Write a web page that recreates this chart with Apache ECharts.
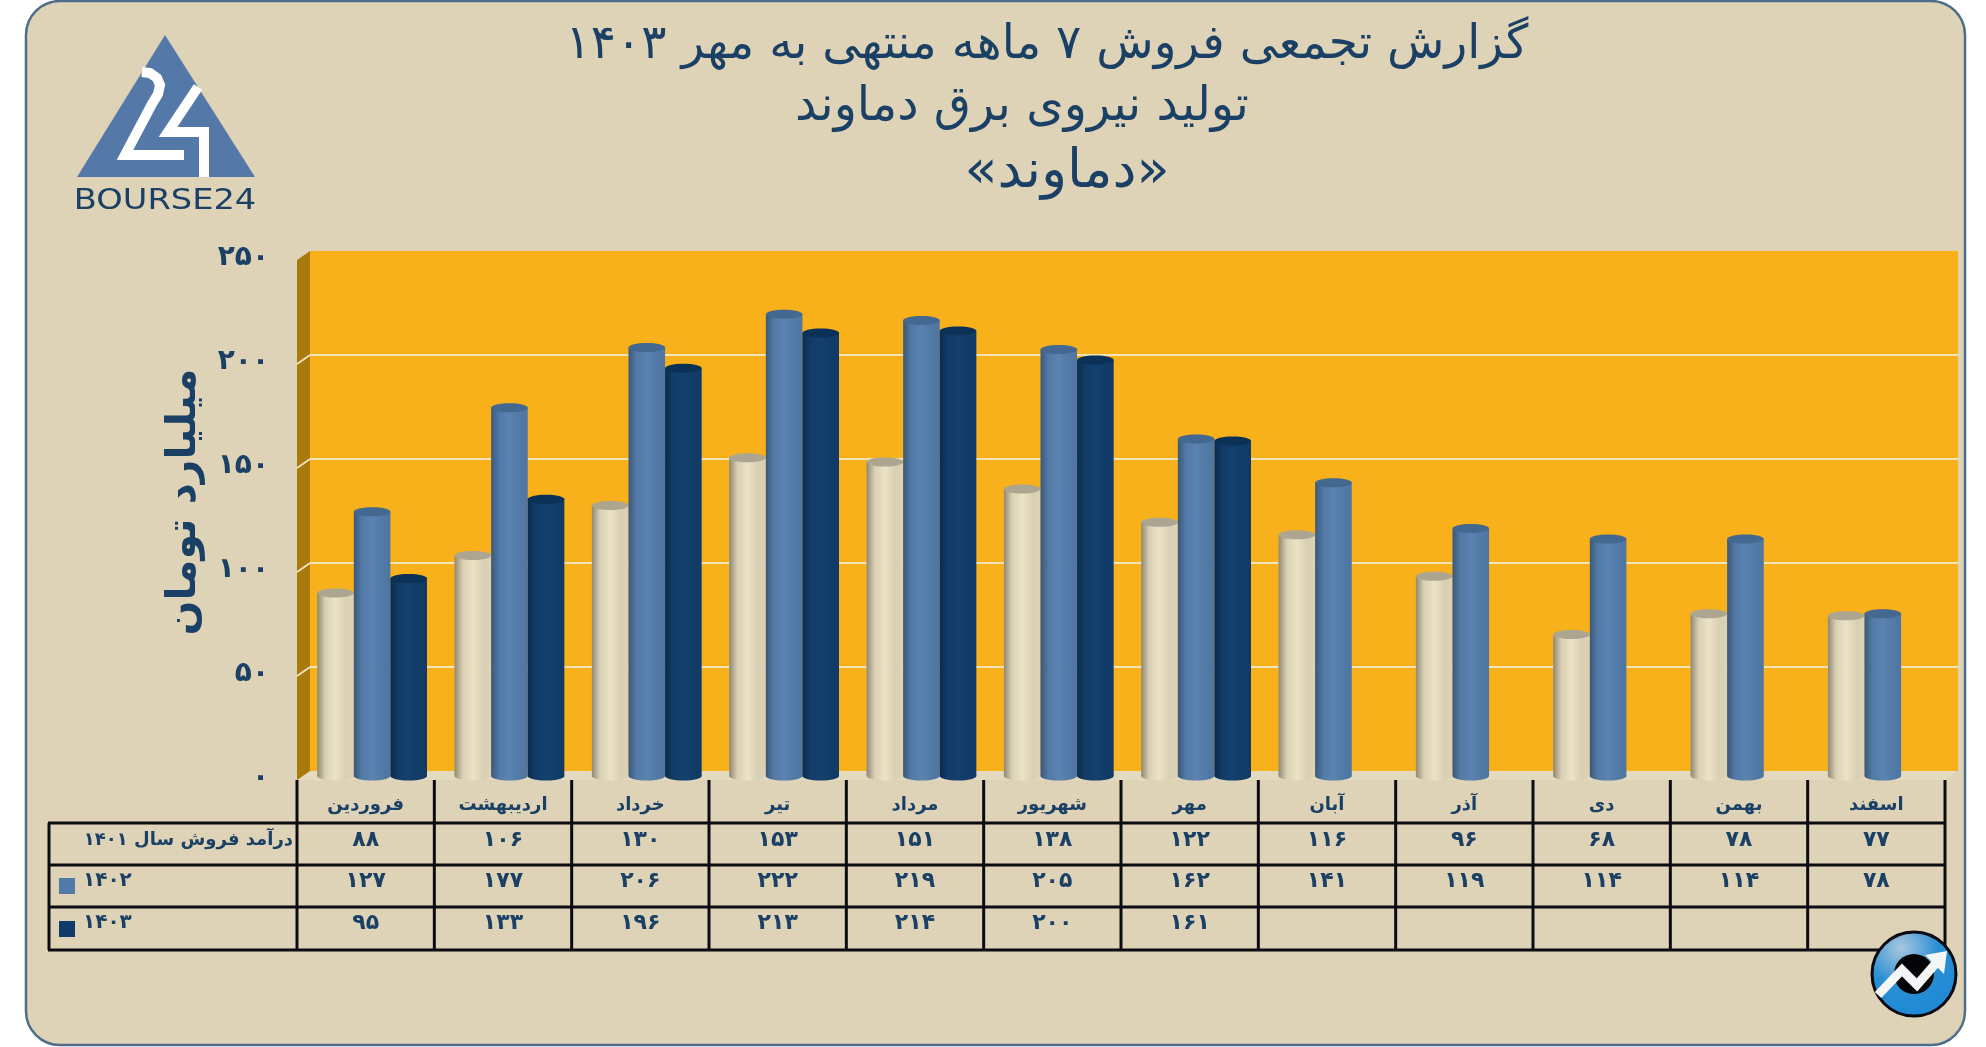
<!DOCTYPE html>
<html><head><meta charset="utf-8">
<style>html,body{margin:0;padding:0;background:#fff}#c{width:1986px;height:1047px}</style>
<script src="https://cdn.jsdelivr.net/npm/echarts@6/dist/echarts.min.js"></script>
</head><body><div id="c"></div>
<script>
const months = ['فروردین','اردیبهشت','خرداد','تیر','مرداد','شهریور','مهر','آبان','آذر','دی','بهمن','اسفند'];
const sales1401 = [88,106,130,153,151,138,122,116,96,68,78,77];
const sales1402 = [127,177,206,222,219,205,162,141,119,114,114,78];
const sales1403 = [95,133,196,213,214,200,161];
const yTicks = [0,50,100,150,200,250];
const rowLabels = ['درآمد فروش سال ۱۴۰۱','۱۴۰۲','۱۴۰۳'];
const titleLines = ['گزارش تجمعی فروش ۷ ماهه منتهی به مهر ۱۴۰۳','تولید نیروی برق دماوند','«دماوند»'];
const yName = 'میلیارد تومان';

const FONT = '"DejaVu Sans"';
const INK = '#1b4066';
const fa = n => String(n).replace(/\d/g, d => '۰۱۲۳۴۵۶۷۸۹'[d]);
const grad = (a,b,c,d) => ({type:'linear',x:0,y:0,x2:1,y2:0,colorStops:[
  {offset:0,color:a},{offset:.22,color:b},{offset:.5,color:c},{offset:.78,color:b},{offset:1,color:d}]});
const skins = [
  {body:grad('#8f8873','#d9cfb4','#ece2c4','#dcd2b6','#8f8873'),cap:'#aca58f'},
  {body:grad('#3b5878','#527aa6','#5b82b0','#4f76a1','#39587a'),cap:'#44688f'},
  {body:grad('#0b2b4d','#123c68','#14406e','#113a65','#0a2a4b'),cap:'#0c3156'}
];
function cylinder(slot){
  return function(p, api){
    const band = api.size([1,0])[0];
    const w = band*0.2665, c = api.coord([api.value(0), api.value(1)]);
    const base = api.coord([api.value(0), 0]);
    const x = c[0] + band*0.047 + (slot-1)*w - w/2;
    const ry = 4.5;
    return {type:'group',children:[
      {type:'ellipse',shape:{cx:x+w/2,cy:base[1],rx:w/2,ry:ry},style:{fill:skins[slot].body}},
      {type:'rect',shape:{x:x,y:c[1],width:w,height:base[1]-c[1]},style:{fill:skins[slot].body}},
      {type:'ellipse',shape:{cx:x+w/2,cy:c[1],rx:w/2,ry:ry},style:{fill:skins[slot].cap}}
    ]};
  };
}
const barSeries = [sales1401,sales1402,sales1403].map((arr,i)=>({
  name:['1401','1402','1403'][i],type:'custom',xAxisIndex:0,yAxisIndex:0,z:5+i,
  renderItem:cylinder(i),encode:{x:0,y:1},
  data:arr.map((v,k)=>[k,v])
}));
const rowY = [840,881,923];
const cellSeries = {
  name:'table',type:'custom',xAxisIndex:0,yAxisIndex:0,z:12,silent:true,clip:false,
  encode:{x:0},
  data:[sales1401,sales1402,sales1403].flatMap((arr,r)=>arr.map((v,k)=>[k,v,r])),
  renderItem(p,api){
    const x = api.coord([api.value(0),0])[0];
    return {type:'text',style:{text:fa(api.value(1)),x:x,y:rowY[api.value(2)],align:'center',verticalAlign:'middle',
      fontFamily:FONT,fontWeight:'bold',fontSize:22,fill:INK}};
  }
};
const sideWall = {
  name:'wall',type:'custom',xAxisIndex:1,yAxisIndex:1,z:1,silent:true,clip:false,encode:{y:1},
  data:yTicks.map(v=>[0,v]),
  renderItem(p,api){
    const half = api.size([1,0])[0]/2;
    const v = api.value(1), c = api.coord([0,v]), a = [c[0]-half,c[1]];
    const items = [];
    if(v===0){
      const t = api.coord([0,250]);
      items.push({type:'polygon',shape:{points:[[t[0]-half-13,t[1]+9],[t[0]-half,t[1]],[a[0],a[1]],[a[0]-13,a[1]+9]]},style:{fill:'#a9790c'}});
    } else if(v<250){
      items.push({type:'line',shape:{x1:a[0]-13,y1:a[1]+9,x2:a[0],y2:a[1]},style:{stroke:'#f0e2bd',lineWidth:2}});
    }
    return {type:'group',children:items};
  }
};

const L=49,R=1945,X0=297,CW=(1945-297)/12,rows=[823,865,907,950];
const tableLines=[];
rows.forEach(y=>tableLines.push({type:'line',z:10,shape:{x1:L-1,y1:y,x2:R+1,y2:y},style:{stroke:'#0b0b12',lineWidth:3}}));
tableLines.push({type:'line',z:10,shape:{x1:L,y1:rows[0],x2:L,y2:950},style:{stroke:'#0b0b12',lineWidth:3}});
for(let i=0;i<=12;i++){const x=X0+i*CW;tableLines.push({type:'line',z:10,shape:{x1:x,y1:780,x2:x,y2:950},style:{stroke:'#0b0b12',lineWidth:3}});}

const txt=(text,x,y,align,size,weight,extra)=>Object.assign({type:'text',z:20,x:x,y:y,style:{text:text,align:align,verticalAlign:'middle',fontFamily:FONT,fontSize:size,fontWeight:weight,fill:INK}},extra||{});
const W={stroke:'#fff',lineWidth:10,fill:null};
const graphics=[
  {type:'rect',z:-10,shape:{x:26,y:1,width:1939,height:1044,r:34},style:{fill:'#dfd3b7',stroke:'#4d6d88',lineWidth:2.5}},
  {type:'polygon',z:-5,shape:{points:[[297,780],[310,770],[1958,770],[1945,780]]},style:{fill:'#e4dabf'}},
  ...tableLines,
  txt(rowLabels[0],293,840,'right',18,'bold'),
  txt(rowLabels[1],83,881,'left',20,'bold'),
  txt(rowLabels[2],83,923,'left',20,'bold'),
  {type:'rect',z:20,shape:{x:59,y:878,width:16,height:16},style:{fill:'#527aa6'}},
  {type:'rect',z:20,shape:{x:59,y:921,width:16,height:16},style:{fill:'#123c68'}},
  // logo
  {type:'polygon',z:20,shape:{points:[[165,35],[255,177],[77,177]]},style:{fill:'#5479a8'}},
  {type:'polyline',z:21,shape:{points:[[142,72],[150,73],[157,78],[160,85],[158,94],[152,104],[125,155],[184,155]]},style:W},
  {type:'polyline',z:21,shape:{points:[[198,87],[168,132],[204,132],[204,177]]},style:W},
  txt('BOURSE24',165,201,'center',29,'normal',{scaleX:1.16}),
  // corner badge
  {type:'circle',z:30,shape:{cx:1914,cy:974,r:42},style:{stroke:'#0a0a10',lineWidth:3,fill:{type:'radial',x:.35,y:.2,r:.95,colorStops:[{offset:0,color:'#a8c8e0'},{offset:.45,color:'#2a8fd2'},{offset:1,color:'#1a86d6'}]}}},
  {type:'circle',z:31,shape:{cx:1914,cy:974,r:20},style:{fill:'#050507'}},
  {type:'polyline',z:32,shape:{points:[[1878,995],[1902,970],[1917,985],[1937,962]]},style:{stroke:'#f4f6f8',lineWidth:9,fill:null}},
  {type:'polygon',z:32,shape:{points:[[1947,951],[1944,974],[1925,955]]},style:{fill:'#f4f6f8'}}
];

const chart=echarts.init(document.getElementById('c'),null,{renderer:'canvas'});
chart.setOption({
  animation:false,
  title:[
    {text:titleLines[0],left:1042,top:41,textAlign:'center',textVerticalAlign:'middle',textStyle:{fontFamily:FONT,fontWeight:'normal',fontSize:47,color:INK}},
    {text:titleLines[1],left:1017,top:103,textAlign:'center',textVerticalAlign:'middle',textStyle:{fontFamily:FONT,fontWeight:'normal',fontSize:48,color:INK}},
    {text:titleLines[2],left:1062,top:168,textAlign:'center',textVerticalAlign:'middle',textStyle:{fontFamily:FONT,fontWeight:'normal',fontSize:54,color:INK}}
  ],
  grid:[
    {left:297,width:1648,top:256,height:520},
    {left:310,width:1648,top:251,height:520,show:true,backgroundColor:'#f9b11b',borderWidth:0}
  ],
  xAxis:[
    {type:'category',gridIndex:0,data:months,axisLine:{show:false},axisTick:{show:false},
     axisLabel:{margin:29,interval:0,verticalAlign:'middle',fontFamily:FONT,fontWeight:'bold',fontSize:18,color:INK}},
    {type:'category',gridIndex:1,data:months,show:false}
  ],
  yAxis:[
    {type:'value',gridIndex:0,min:0,max:250,interval:50,splitLine:{show:false},axisLine:{show:false},axisTick:{show:false},
     axisLabel:{margin:28,verticalAlign:'top',lineHeight:4,fontFamily:FONT,fontWeight:'bold',fontSize:28,color:INK,formatter:v=>fa(v)},
     name:yName,nameLocation:'middle',nameRotate:90,nameGap:92,
     nameTextStyle:{fontFamily:FONT,fontWeight:'bold',fontSize:41,color:INK,padding:[0,0,0,28]}},
    {type:'value',gridIndex:1,min:0,max:250,interval:50,axisLine:{show:false},axisTick:{show:false},axisLabel:{show:false},
     splitLine:{show:true,showMinLine:false,showMaxLine:false,lineStyle:{color:'#f3e3b8',width:2}}}
  ],
  graphic:graphics,
  series:[sideWall,...barSeries,cellSeries]
});
</script></body></html>
